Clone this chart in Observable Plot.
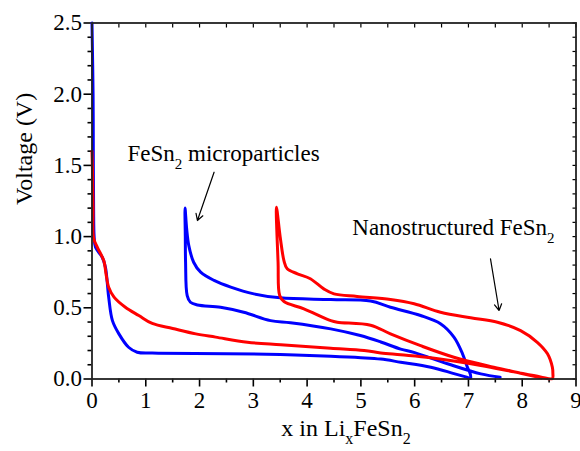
<!DOCTYPE html>
<html><head><meta charset="utf-8">
<script src="https://cdn.jsdelivr.net/npm/d3@7"></script>
<script src="https://cdn.jsdelivr.net/npm/@observablehq/plot@0.6"></script>
<style>body{margin:0;background:#fff}</style>
</head><body><div id="top" style="height:0;overflow:hidden"></div><div id="chart"></div>
<script>
// FeSn2 microparticles (blue): discharge 1, charge 1, discharge 2
const blueX = [0, 0.02, 0.025, 0.03, 0.04, 0.065, 0.19, 0.25, 0.31, 0.38, 0.5, 0.68, 0.84, 1.12, 2.5, 3.5, 4.44, 5.0, 5.37, 5.74, 6.3, 6.73, 6.95, 7.04,
  7.03, 6.98, 6.89, 6.73, 6.48, 6.11, 5.55, 5.18, 4.44, 3.5, 3.01, 2.58, 2.27, 2.02, 1.89, 1.8, 1.76, 1.73,
  1.735, 1.74, 1.77, 1.83, 1.96, 2.39, 2.82, 3.32, 3.69, 4.44, 4.99, 5.37, 5.74, 6.0, 6.61, 7.23, 7.59];
const blueV = [2.5, 2.0, 1.5, 1.2, 1.0, 0.925, 0.855, 0.785, 0.575, 0.41, 0.317, 0.223, 0.188, 0.182, 0.178, 0.172, 0.16, 0.15, 0.14, 0.118, 0.083, 0.038, 0.015, 0.005,
  0.04, 0.083, 0.177, 0.294, 0.388, 0.446, 0.504, 0.548, 0.558, 0.57, 0.598, 0.645, 0.692, 0.75, 0.82, 0.937, 1.055, 1.2,
  1.0, 0.82, 0.586, 0.539, 0.52, 0.504, 0.469, 0.41, 0.395, 0.352, 0.305, 0.26, 0.21, 0.185, 0.107, 0.036, 0.013];
// Nanostructured FeSn2 (red): discharge 1, charge 1, discharge 2
const redX = [0, 0.01, 0.02, 0.03, 0.1, 0.22, 0.26, 0.31, 0.41, 0.62, 0.87, 1.12, 1.5, 1.93, 2.3, 2.89, 3.51, 4.44, 5.06, 5.37, 5.74, 6.3, 7.23, 7.85, 8.34, 8.56,
  8.57, 8.56, 8.47, 8.28, 7.97, 7.54, 7.04, 6.48, 5.99, 5.55, 4.93, 4.5, 4.31, 4.06, 3.82, 3.63, 3.57, 3.5, 3.43,
  3.46, 3.49, 3.57, 3.94, 4.44, 4.56, 5.18, 5.55, 6.11, 6.73, 7.47, 7.97, 8.35];
const redV = [1.6, 1.45, 1.2, 0.99, 0.925, 0.83, 0.74, 0.645, 0.575, 0.504, 0.446, 0.39, 0.355, 0.317, 0.294, 0.258, 0.24, 0.216, 0.2, 0.183, 0.17, 0.149, 0.095, 0.05, 0.015, 0.003,
  0.04, 0.083, 0.177, 0.258, 0.34, 0.399, 0.43, 0.469, 0.528, 0.558, 0.58, 0.598, 0.633, 0.704, 0.739, 0.774, 0.83, 0.996, 1.206,
  0.82, 0.586, 0.544, 0.493, 0.41, 0.399, 0.378, 0.317, 0.234, 0.153, 0.083, 0.041, 0.008];

const xTicks = [0, 1, 2, 3, 4, 5, 6, 7, 8, 9];
const xMinor = [0.5, 1.5, 2.5, 3.5, 4.5, 5.5, 6.5, 7.5, 8.5];
const yTicks = [0, 0.5, 1.0, 1.5, 2.0, 2.5];
const yMinor = [0.1,0.2,0.3,0.4,0.6,0.7,0.8,0.9,1.1,1.2,1.3,1.4,1.6,1.7,1.8,1.9,2.1,2.2,2.3,2.4];

const labelTexts = ["FeSn_2 microparticles", "Nanostructured FeSn_2"];
const labelX = [0.66, 4.84];
const labelY = [1.586, 1.06];
const arrowX1 = [2.27, 7.41], arrowY1 = [1.452, 0.844];
const arrowX2 = [1.96, 7.57], arrowY2 = [1.113, 0.481];

const xTitle = "x in Li_xFeSn_2";
const yTitle = "Voltage (V)";

const blue = blueX.map((x, i) => ({x, v: blueV[i]}));
const red = redX.map((x, i) => ({x, v: redV[i]}));
const labels = labelTexts.map((t, i) => ({t, x: labelX[i], y: labelY[i]}));
const arrows = arrowX1.map((x1, i) => ({x1, y1: arrowY1[i], x2: arrowX2[i], y2: arrowY2[i]}));

const FONT = "Liberation Serif, Times New Roman, serif";
const fmtY = d3.format(".1f");
const plot = Plot.plot({
  width: 580, height: 451,
  marginLeft: 91.5, marginRight: 4.5, marginTop: 22.5, marginBottom: 72.5,
  x: {domain: [0, 9]},
  y: {domain: [0, 2.5]},
  marks: [
    Plot.axisX(xTicks, {tickSize: 8, tickPadding: 5, tickFormat: d => String(d), label: null, fontSize: 23, fill: "#000", stroke: "#000", strokeWidth: 1.6}),
    Plot.axisX(xMinor, {tickSize: 4, tickFormat: () => "", label: null, stroke: "#000", strokeWidth: 1.6}),
    Plot.axisY(yTicks, {tickSize: 8, tickPadding: 2, tickFormat: fmtY, label: null, fontSize: 23, fill: "#000", stroke: "#000", strokeWidth: 1.6}),
    Plot.axisY(yMinor, {tickSize: 4, tickFormat: () => "", label: null, stroke: "#000", strokeWidth: 1.6}),
    Plot.axisX(xTicks.concat(xMinor), {anchor: "top", tickSize: -4, tickFormat: () => "", label: null, stroke: "#000", strokeWidth: 1.2}),
    Plot.axisY(yTicks.concat(yMinor), {anchor: "right", tickSize: -4, tickFormat: () => "", label: null, stroke: "#000", strokeWidth: 1.2}),
    Plot.line(blue, {x: "x", y: "v", stroke: "#0000ff", strokeWidth: 3, curve: "catmull-rom"}),
    Plot.line(red, {x: "x", y: "v", stroke: "#ff0000", strokeWidth: 3, curve: "catmull-rom"}),
    Plot.frame({stroke: "#222", strokeWidth: 1.8}),
    Plot.arrow(arrows, {x1: "x1", y1: "y1", x2: "x2", y2: "y2", stroke: "#000", strokeWidth: 1.2, headLength: 9}),
    Plot.text(labels, {x: "x", y: "y", text: "t", textAnchor: "start", fontSize: 23, fill: "#000"}),
    Plot.text([xTitle], {frameAnchor: "bottom", dx: 12, dy: 57, fontSize: 24, fill: "#000"}),
    Plot.text([yTitle], {frameAnchor: "left", rotate: -90, dx: -68, dy: 4, fontSize: 24, fill: "#000"})
  ]
});

// turn "_c" markers into subscripts
d3.select(plot).selectAll("text").each(function () {
  const t = this.textContent;
  if (!t.includes("_")) return;
  const fs = parseFloat(this.getAttribute("font-size")) || parseFloat((this.parentNode && this.parentNode.getAttribute && this.parentNode.getAttribute("font-size"))) || 23;
  const sub = Math.round(fs * 0.65), shift = Math.round(fs * 0.33);
  const parts = t.split(/(_.)/).filter(p => p.length);
  const sel = d3.select(this);
  sel.text(null);
  let down = false;
  for (const p of parts) {
    const ts = sel.append("tspan");
    if (p[0] === "_") {
      ts.text(p.slice(1)).attr("font-size", sub).attr("dy", shift);
      down = true;
    } else {
      ts.text(p);
      if (down) { ts.attr("dy", -shift); down = false; }
    }
  }
});

// serif font everywhere
d3.select(plot).attr("font-family", FONT).style("font-family", FONT);
d3.select(plot).selectAll("g, text, tspan").attr("font-family", FONT).style("font-family", FONT);

document.getElementById("chart").appendChild(plot);
</script>
</body></html>
